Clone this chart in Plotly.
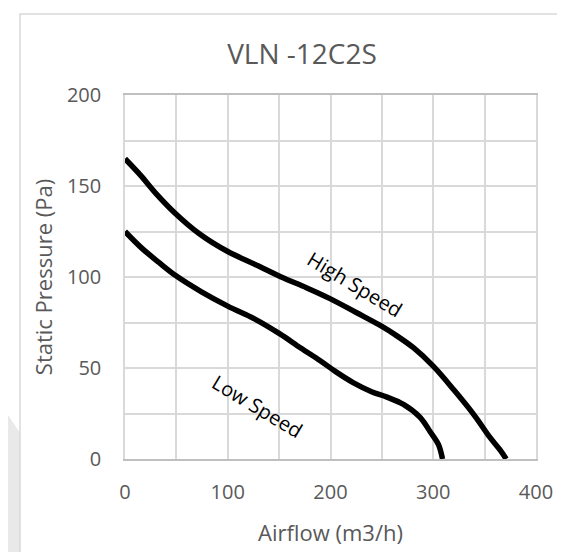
import plotly.graph_objects as go

# Fan curve data
high_x = [0, 15, 30, 48, 73, 100, 130, 152, 177, 200, 225, 248, 265, 281, 300, 320, 340, 355, 365, 371]
high_y = [165, 156, 146, 135.5, 123.5, 114, 106, 100, 94, 88, 80.5, 73.5, 67.5, 61, 51, 38, 24, 12, 5, 0]

low_x = [0, 16, 33, 50, 74, 100, 126, 150, 171, 190, 205, 222, 240, 255, 271, 287, 297, 305, 309]
low_y = [125, 116, 108, 100.5, 92, 84, 77, 69, 61, 54, 48, 42, 37, 34, 30, 23, 15, 8, 0]

title_text = "VLN -12C2S"
x_title = "Airflow (m3/h)"
y_title = "Static Pressure (Pa)"
high_label = "High Speed"
low_label = "Low Speed"

FONT = "Open Sans"
GREY = "#595959"
GRID = "#d9d9d9"

fig = go.Figure()
fig.add_trace(go.Scatter(x=high_x, y=high_y, mode="lines", name=high_label,
                         line=dict(color="black", width=5.5, shape="spline", smoothing=1.0)))
fig.add_trace(go.Scatter(x=low_x, y=low_y, mode="lines", name=low_label,
                         line=dict(color="black", width=5.5, shape="spline", smoothing=1.0)))

W, H = 565, 552
L, R, T, B = 117, 528, 87, 451


def px(p):
    return (p - L) / (R - L)


def py(p):
    return (B - p) / (B - T)


shapes = [
    # light grey wedge at lower-left corner
    dict(type="path", xref="paper", yref="paper",
         path=f"M {px(0)} {py(407)} L {px(12)} {py(425)} L {px(12)} {py(560)} L {px(0)} {py(560)} Z",
         fillcolor="#e9e9e9", line=dict(width=0), layer="below"),
    # chart border
    dict(type="rect", xref="paper", yref="paper",
         x0=px(12), x1=px(556), y0=py(562), y1=py(6),
         line=dict(color="#d9d9d9", width=1.5), layer="below"),
]

fig.update_layout(
    width=W, height=H,
    margin=dict(l=L, r=W - R, t=T, b=H - B),
    paper_bgcolor="white", plot_bgcolor="white",
    showlegend=False,
    font=dict(family=FONT, color=GREY, size=20),
    title=dict(text=title_text, x=294 / W, xref="container", xanchor="center",
               y=1 - 46 / H, yref="container", yanchor="middle",
               font=dict(family=FONT, size=28, color=GREY)),
    shapes=shapes,
    annotations=[
        dict(x=224, y=96, xref="x", yref="y", text=high_label, showarrow=False,
             textangle=31, font=dict(family=FONT, size=20, color="black")),
        dict(x=129, y=29, xref="x", yref="y", text=low_label, showarrow=False,
             textangle=31, font=dict(family=FONT, size=20, color="black")),
    ],
)

fig.update_xaxes(
    range=[0, 400], dtick=100, tick0=0,
    showgrid=True, gridcolor=GRID, gridwidth=1.5,
    minor=dict(dtick=50, showgrid=True, gridcolor=GRID, gridwidth=1.5),
    showline=True, linecolor="#bfbfbf", linewidth=1.5, mirror=True,
    zeroline=False, ticks="", ticklabelstandoff=14,
    tickfont=dict(family=FONT, size=20, color=GREY),
    title=dict(text=x_title, standoff=22, font=dict(family=FONT, size=22, color=GREY)),
)
fig.update_yaxes(
    range=[0, 200], dtick=50, tick0=0,
    showgrid=True, gridcolor=GRID, gridwidth=1.5,
    minor=dict(dtick=25, showgrid=True, gridcolor=GRID, gridwidth=1.5),
    showline=True, linecolor=GRID, linewidth=1.5, mirror=True,
    zeroline=False, ticks="", ticklabelstandoff=18,
    tickfont=dict(family=FONT, size=20, color=GREY),
    title=dict(text=y_title, standoff=8, font=dict(family=FONT, size=22, color=GREY)),
)

fig.write_html("out.html")
